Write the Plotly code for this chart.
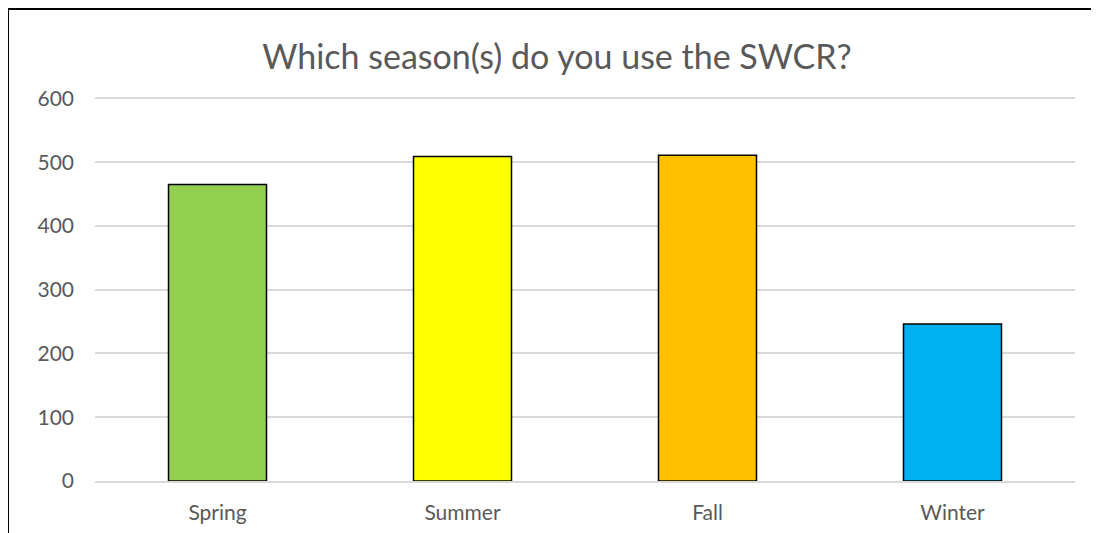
import plotly.graph_objects as go

categories = ["Spring", "Summer", "Fall", "Winter"]
values = [465, 509, 511, 246]
colors = ["#92D050", "#FFFF00", "#FFC000", "#00B0F0"]
y_ticks = [0, 100, 200, 300, 400, 500, 600]

OFF = 8  # page body margin
W, H = 1099 - OFF, 533 - OFF
ml, mt = 95 - OFF, 92 - OFF
pw, ph = 980, 389
mr = W - ml - pw
mb = H - mt - ph

def px_x(p):
    return (p - OFF - ml) / pw

def px_y(p):
    return (mt + ph - (p - OFF)) / ph

fig = go.Figure(go.Bar(
    x=categories, y=values,
    marker=dict(color=colors, line=dict(color="#000000", width=1.5)),
    width=0.4,
))

fig.update_layout(
    width=W, height=H,
    margin=dict(l=ml, r=mr, t=mt, b=mb, autoexpand=False),
    paper_bgcolor="white", plot_bgcolor="white",
    font=dict(family="Lato, Open Sans, sans-serif", color="#595959", size=21),
    title=dict(text="Which season(s) do you use the SWCR?",
               x=px_x(557), xref="paper", xanchor="center",
               y=1 - (57 - OFF) / H, yanchor="middle",
               font=dict(size=34, color="#595959")),
    showlegend=False,
    xaxis=dict(showgrid=False, showline=True, linecolor="#D9D9D9", linewidth=1.5,
               automargin=False,
               ticks="", ticklabelstandoff=12, tickfont=dict(size=21, color="#595959")),
    yaxis=dict(range=[0, 610], tickvals=y_ticks, showgrid=True, gridcolor="#D9D9D9",
               gridwidth=1.5, zeroline=False, showline=False, ticks="",
               automargin=False,
               ticklabelstandoff=20, tickfont=dict(size=21, color="#595959")),
    shapes=[
        dict(type="line", xref="paper", yref="paper",
             x0=px_x(8), x1=px_x(8), y0=px_y(9), y1=px_y(560),
             line=dict(color="black", width=2)),
        dict(type="line", xref="paper", yref="paper",
             x0=px_x(8), x1=px_x(1120), y0=px_y(9), y1=px_y(9),
             line=dict(color="black", width=2)),
    ],
)

fig.write_html("out.html")
